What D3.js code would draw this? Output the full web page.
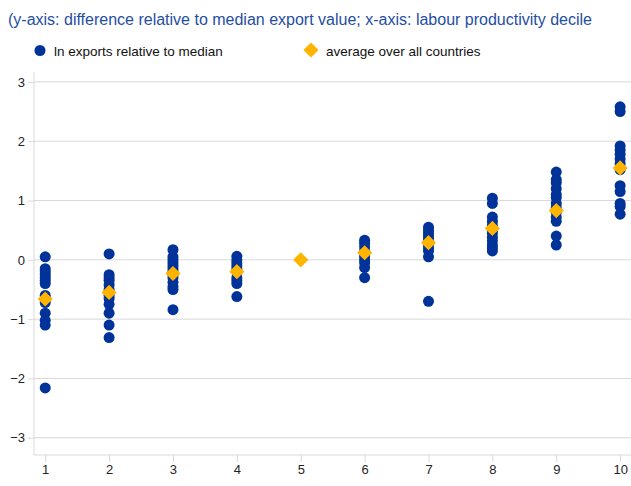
<!DOCTYPE html>
<html>
<head>
<meta charset="utf-8">
<script src="https://cdn.jsdelivr.net/npm/d3@7"></script>
<style>
  body { margin: 0; background: #fff; }
  svg { font-family: Arial, "Liberation Sans", sans-serif; }
</style>
</head>
<body>
<div id="chart"></div>
<script>
// decile labels on the x axis
var deciles = [1, 2, 3, 4, 5, 6, 7, 8, 9, 10];
var yTicks = [-3, -2, -1, 0, 1, 2, 3];

// ln exports relative to median, one list per decile
var decile1 = [0.05, -0.15, -0.2, -0.25, -0.3, -0.35, -0.4, -0.6, -0.65, -0.72, -0.9, -1.02, -1.1, -2.16];
var decile2 = [0.1, -0.25, -0.3, -0.35, -0.42, -0.5, -0.6, -0.65, -0.75, -0.9, -1.1, -1.31];
var decile3 = [0.17, 0.05, 0.0, -0.05, -0.1, -0.15, -0.2, -0.25, -0.3, -0.38, -0.45, -0.5, -0.84];
var decile4 = [0.06, 0.0, -0.05, -0.1, -0.15, -0.2, -0.3, -0.35, -0.4, -0.62];
var decile5 = [];
var decile6 = [0.33, 0.28, 0.22, 0.15, 0.1, 0.05, 0.0, -0.05, -0.13, -0.3];
var decile7 = [0.55, 0.5, 0.45, 0.4, 0.35, 0.3, 0.25, 0.2, 0.15, 0.05, -0.7];
var decile8 = [1.04, 0.95, 0.72, 0.65, 0.58, 0.5, 0.45, 0.38, 0.32, 0.25, 0.2, 0.15];
var decile9 = [1.48, 1.35, 1.3, 1.2, 1.1, 1.05, 0.95, 0.88, 0.8, 0.72, 0.65, 0.4, 0.25];
var decile10 = [2.58, 2.5, 1.92, 1.85, 1.78, 1.7, 1.62, 1.52, 1.25, 1.15, 0.95, 0.9, 0.77];

// average over all countries
var averages = [-0.66, -0.55, -0.23, -0.2, 0.0, 0.12, 0.29, 0.53, 0.83, 1.55];

var title = '(y-axis: difference relative to median export value; x-axis: labour productivity decile';
var legendLabels = ['ln exports relative to median', 'average over all countries'];

var BLUE = '#003399';
var ORANGE = '#ffb400';
var GRID = '#d9d9d9';
var FONT = 'Arial, "Liberation Sans", sans-serif';

var W = 631, H = 486;
var plotLeft = 34, plotRight = 631, plotTop = 72, plotBottom = 455;

var svg = d3.select('#chart').append('svg')
    .attr('width', W)
    .attr('height', H);

var x = d3.scaleLinear().domain([0.84, 10.17]).range([35, plotRight]);
var y = d3.scaleLinear().domain([-3.29, 3.2]).range([plotBottom, 70]);

var diamond = d3.symbol().type(d3.symbolSquare).size(115);

// title
svg.append('text')
    .attr('x', 8)
    .attr('y', 25)
    .attr('fill', '#1f4ea3')
    .style('font-size', '16px')
    .text(title);

// legend
var legend = svg.append('g').style('font-size', '13.5px');
legend.append('circle').attr('cx', 40).attr('cy', 50.5).attr('r', 5.5).attr('fill', BLUE);
legend.append('text').attr('x', 54).attr('y', 56).attr('fill', '#111').text(legendLabels[0]);
legend.append('path')
    .attr('d', diamond)
    .attr('transform', 'translate(311,50) rotate(45)')
    .attr('fill', ORANGE);
legend.append('text').attr('x', 326).attr('y', 56).attr('fill', '#111').text(legendLabels[1]);

// grid lines
svg.append('g').selectAll('line')
    .data(yTicks)
    .join('line')
    .attr('x1', plotLeft).attr('x2', plotRight)
    .attr('y1', function (d) { return y(d); })
    .attr('y2', function (d) { return y(d); })
    .attr('stroke', GRID)
    .attr('stroke-width', 1);

// y axis
var yAxis = svg.append('g')
    .attr('transform', 'translate(' + plotLeft + ',0)')
    .call(d3.axisLeft(y).tickValues(yTicks).tickSize(6).tickPadding(3)
        .tickFormat(function (d) { return d < 0 ? '\u2212' + Math.abs(d) : d; }));
yAxis.select('.domain').attr('stroke', GRID).attr('d', 'M0,' + plotTop + 'V' + plotBottom);
yAxis.selectAll('.tick line').attr('stroke', GRID);
yAxis.selectAll('.tick text').attr('fill', '#222').style('font-size', '13px').style('font-family', FONT);

// x axis
var xAxis = svg.append('g')
    .attr('transform', 'translate(0,' + plotBottom + ')')
    .call(d3.axisBottom(x).tickValues(deciles).tickSize(7).tickPadding(3).tickFormat(d3.format('d')));
xAxis.select('.domain').attr('stroke', GRID).attr('d', 'M' + plotLeft + ',0H' + plotRight);
xAxis.selectAll('.tick line').attr('stroke', GRID);
xAxis.selectAll('.tick text').attr('fill', '#222').style('font-size', '13px').style('font-family', FONT);

// dots
var byDecile = [decile1, decile2, decile3, decile4, decile5, decile6, decile7, decile8, decile9, decile10];
var points = [];
byDecile.forEach(function (vals, i) {
    vals.forEach(function (v) { points.push({ d: deciles[i], v: v }); });
});

svg.append('g').selectAll('circle')
    .data(points)
    .join('circle')
    .attr('cx', function (p) { return x(p.d); })
    .attr('cy', function (p) { return y(p.v); })
    .attr('r', 5.5)
    .attr('fill', BLUE);

// averages
svg.append('g').selectAll('path')
    .data(averages)
    .join('path')
    .attr('d', diamond)
    .attr('transform', function (v, i) { return 'translate(' + x(deciles[i]) + ',' + y(v) + ') rotate(45)'; })
    .attr('fill', ORANGE);
</script>
</body>
</html>
